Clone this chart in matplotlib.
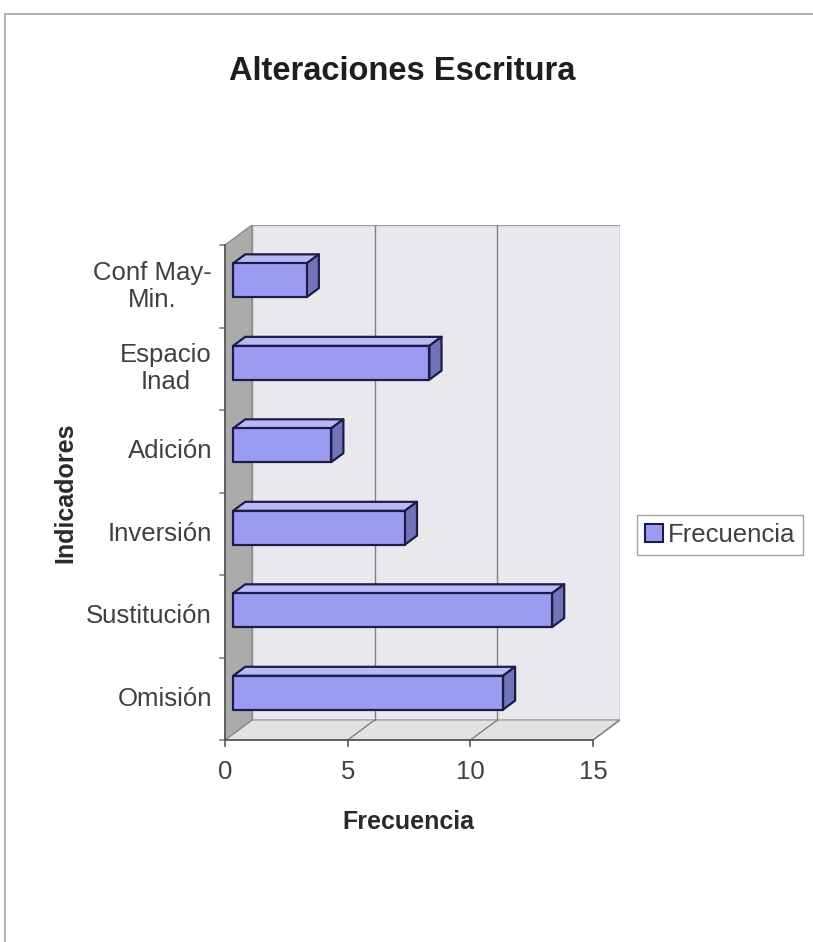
import matplotlib
matplotlib.use("Agg")
import matplotlib.pyplot as plt
from matplotlib.patches import Polygon, Patch
from matplotlib.lines import Line2D

plt.rcParams["font.family"] = ["Liberation Sans", "DejaVu Sans"]

# data
categories = ["Omisión", "Sustitución", "Inversión", "Adición", "Espacio\nInad", "Conf May-\nMin."]
values = [11, 13, 7, 4, 8, 3]
xticks = [0, 5, 10, 15]

title = "Alteraciones Escritura"
xlabel = "Frecuencia"
ylabel = "Indicadores"
series_name = "Frecuencia"

# fake 3d geometry (depth offset in data units)
DX, DY = 1.1, 0.243
D0, D1 = 0.3, 0.75     # bar depth span
H = 0.205              # half bar height
XMAX = xticks[-1]
YLO, YHI = -0.5, len(categories) - 0.5

FRONT = "#9a9cf2"
TOP = "#b8baf6"
SIDE = "#7174b8"
EDGE = "#1c1c48"
TXT = "#404040"


def pt(v, c, d):
    return (v + d * DX, c + d * DY)


fig = plt.figure(figsize=(8.13, 9.42), dpi=100)
W, Hpx = 813, 942
ax = fig.add_axes([225 / W, (Hpx - 740) / Hpx, 395 / W, 515 / Hpx])
ax.set_xlim(0, XMAX + DX)
ax.set_ylim(YLO, YHI + DY)
ax.axis("off")

# walls
back = [pt(0, YLO, 1), pt(XMAX, YLO, 1), pt(XMAX, YHI, 1), pt(0, YHI, 1)]
ax.add_patch(Polygon(back, closed=True, fc="#e9e9ed", ec="#a0a0a0", lw=1, zorder=1))
floor = [pt(0, YLO, 0), pt(XMAX, YLO, 0), pt(XMAX, YLO, 1), pt(0, YLO, 1)]
ax.add_patch(Polygon(floor, closed=True, fc="#e2e2e4", ec="#a0a0a0", lw=1, zorder=1))
side = [pt(0, YLO, 0), pt(0, YHI, 0), pt(0, YHI, 1), pt(0, YLO, 1)]
ax.add_patch(Polygon(side, closed=True, fc="#ababab", ec="#8a8a8a", lw=1, zorder=1))

# gridlines on back wall and floor
for t in xticks[1:-1]:
    ax.plot(*zip(pt(t, YLO, 1), pt(t, YHI, 1)), color="#808080", lw=1, zorder=2)
for t in xticks[1:]:
    ax.plot(*zip(pt(t, YLO, 0), pt(t, YLO, 1)), color="#808080", lw=1, zorder=2)

# front axis lines + ticks
ax.plot([0, XMAX], [YLO, YLO], color="#555555", lw=1.3, zorder=3, clip_on=False)
ax.plot([0, 0], [YLO, YHI], color="#555555", lw=1.3, zorder=3, clip_on=False)
for t in xticks:
    ax.plot([t, t], [YLO, YLO - 0.07], color="#555555", lw=1.2, clip_on=False)
    ax.text(t, YLO - 0.24, str(t), ha="center", va="top", fontsize=18.5, color=TXT)
for i in range(len(categories) + 1):
    ax.plot([0, -0.22], [YLO + i, YLO + i], color="#777777", lw=1.1, clip_on=False)

# bars
for i, (cat, v) in enumerate(zip(categories, values)):
    front = [pt(0, i - H, D0), pt(v, i - H, D0), pt(v, i + H, D0), pt(0, i + H, D0)]
    top = [pt(0, i + H, D0), pt(v, i + H, D0), pt(v, i + H, D1), pt(0, i + H, D1)]
    right = [pt(v, i - H, D0), pt(v, i - H, D1), pt(v, i + H, D1), pt(v, i + H, D0)]
    for poly, fc in ((top, TOP), (right, SIDE), (front, FRONT)):
        ax.add_patch(Polygon(poly, closed=True, fc=fc, ec=EDGE, lw=1.6,
                             joinstyle="round", zorder=4))
    ax.text(-0.53, i, cat, ha="right", va="center", fontsize=18.5, color=TXT,
            multialignment="center", linespacing=1.15, clip_on=False)

# titles
fig.text(402 / W, 1 - 71 / Hpx, title, ha="center", va="center",
         fontsize=23.5, fontweight="bold", color="#1e1e1e")
fig.text(408 / W, 1 - 822 / Hpx, xlabel, ha="center", va="center",
         fontsize=18, fontweight="bold", color="#2a2a2a")
fig.text(65 / W, 1 - 493 / Hpx, ylabel, ha="center", va="center", rotation=90,
         fontsize=18, fontweight="bold", color="#2a2a2a")

# legend
leg = fig.legend(handles=[Patch(fc=FRONT, ec=EDGE, lw=1.5, label=series_name)],
                 loc="center left", bbox_to_anchor=(637 / W, 1 - 535 / Hpx),
                 borderaxespad=0, fontsize=18.5, frameon=True, fancybox=False,
                 handlelength=0.7, handleheight=0.7, handletextpad=0.2,
                 borderpad=0.3, labelcolor=TXT)
leg.get_frame().set_edgecolor("#8a8a8a")
leg.get_frame().set_linewidth(1)

# outer border of the scanned chart area
fig.add_artist(Line2D([5 / W, 1], [1 - 14 / Hpx, 1 - 14 / Hpx], color="#b5b5b5", lw=1.5))
fig.add_artist(Line2D([5 / W, 5 / W], [0, 1 - 14 / Hpx], color="#b5b5b5", lw=1.5))

fig.savefig("out.png", dpi=100)
